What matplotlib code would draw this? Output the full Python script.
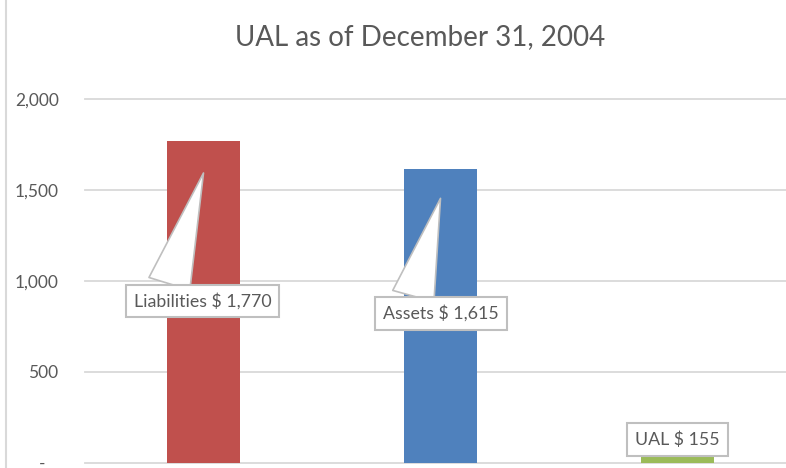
import matplotlib.pyplot as plt
from matplotlib.lines import Line2D
from matplotlib.ticker import FuncFormatter

# values printed in the callouts
categories = ["Liabilities", "Assets", "UAL"]
label_values = [1770, 1615, 155]
# bar heights as drawn in the picture (UAL bar is drawn much shorter than its label)
bar_heights = [1770, 1615, 28]
colors = ["#C0504D", "#4F81BD", "#9BBB59"]
y_ticks = [0, 500, 1000, 1500, 2000]

text_color = "#595959"
grid_color = "#D9D9D9"
plt.rcParams["font.family"] = ["Lato", "DejaVu Sans"]

fig = plt.figure(figsize=(7.86, 4.68), dpi=100)
W, H = 786, 468
# axes spans past the right edge, like the cropped original
ax = fig.add_axes([85 / W, 5.5 / H, (796 - 85) / W, (462.5 - 99) / H])

x = range(len(categories))
ax.bar(x, bar_heights, width=0.31, color=colors, zorder=3)
ax.set_xlim(-0.5, 2.5)
ax.set_ylim(0, 2000)
ax.set_yticks(y_ticks)


def fmt(v, pos):
    if v == 0:
        return "-   "
    return f"{v:,.0f}"


ax.yaxis.set_major_formatter(FuncFormatter(fmt))
ax.tick_params(axis="y", length=0, pad=19, labelsize=12.5, labelcolor=text_color)
ax.set_xticks([])
for s in ax.spines.values():
    s.set_visible(False)
ax.grid(axis="y", color=grid_color, linewidth=1.3, zorder=0)
ax.set_axisbelow(True)
for gl in ax.get_ygridlines():
    gl.set_clip_on(False)

# left border of the chart area
fig.add_artist(Line2D([6.5 / W, 6.5 / W], [0, 1], color=grid_color, linewidth=1.5))

fig.text(420 / W, 1 - 45 / H, "UAL as of December 31, 2004", ha="center", va="baseline",
         fontsize=20, color=text_color)

box = dict(boxstyle="square,pad=0.45", fc="white", ec="#BFBFBF", lw=1.5)
offsets = [(-1, -128), (0.5, -115)]
for i in range(2):
    name = categories[i]
    ax.annotate(f"{name} $ {label_values[i]:,}", xy=(i, bar_heights[i] * 0.9),
                xytext=offsets[i], textcoords="offset pixels",
                ha="center", va="center", fontsize=12.8, color=text_color, bbox=box,
                zorder=5,
                arrowprops=dict(arrowstyle="wedge,tail_width=1.4,shrink_factor=0.5",
                                fc="white", ec="#BFBFBF", lw=1.2, relpos=(0.24, 1.0),
                                shrinkA=0, shrinkB=0, mutation_scale=22))

ax.annotate(f"{categories[2]} $ {label_values[2]:,}", xy=(2, bar_heights[2]),
            xytext=(0, 18), textcoords="offset pixels", ha="center", va="center",
            fontsize=12.8, color=text_color, bbox=box, zorder=5)

fig.savefig("out.png", dpi=100)
